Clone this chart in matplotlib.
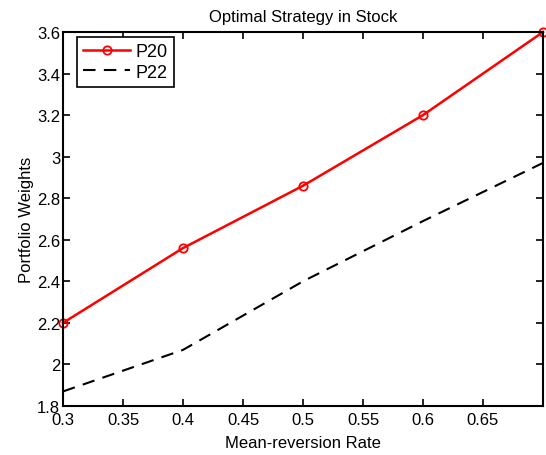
import matplotlib.pyplot as plt
import numpy as np

plt.rcParams['font.family'] = ['Liberation Sans', 'DejaVu Sans']

rate = [0.3, 0.4, 0.5, 0.6, 0.7]
p20 = [2.20, 2.56, 2.86, 3.20, 3.60]
p22 = [1.87, 2.07, 2.40, 2.69, 2.97]

xticks = [0.3, 0.35, 0.4, 0.45, 0.5, 0.55, 0.6, 0.65]
yticks = [1.8, 2.0, 2.2, 2.4, 2.6, 2.8, 3.0, 3.2, 3.4, 3.6]

fig = plt.figure(figsize=(5.46, 4.56), dpi=100)
ax = fig.add_axes([0.1154, 0.1075, 0.8791, 0.8201])

ax.plot(rate, p20, 'r-o', linewidth=1.8, markersize=6, markerfacecolor='none',
        markeredgewidth=1.3, label='P20', clip_on=False)
ax.plot(rate, p22, 'k--', linewidth=1.5, dashes=(6, 4), label='P22')

ax.set_xlim(0.3, 0.7)
ax.set_ylim(1.8, 3.6)
ax.set_xticks(xticks)
ax.set_yticks(yticks)
ax.set_xticklabels(['%g' % t for t in xticks])
ax.set_yticklabels(['%g' % t for t in yticks])
ax.tick_params(direction='in', top=True, right=True, length=5, width=1.2,
               labelsize=12, pad=2)
ax.tick_params(axis='x', pad=4)
for s in ax.spines.values():
    s.set_linewidth(1.5)

ax.set_title('Optimal Strategy in Stock', fontsize=12, pad=8)
ax.set_xlabel('Mean-reversion Rate', fontsize=12, labelpad=6)
ax.set_ylabel('Portfolio Weights', fontsize=12, labelpad=2)

leg = ax.legend(loc='upper left', bbox_to_anchor=(0.029, 0.987), borderaxespad=0,
                fontsize=13, fancybox=False, framealpha=1, edgecolor='black',
                handlelength=2.6, borderpad=0.35, labelspacing=0.2,
                handletextpad=0.3)
leg.get_frame().set_linewidth(1.2)

fig.savefig('out.png', dpi=100)
